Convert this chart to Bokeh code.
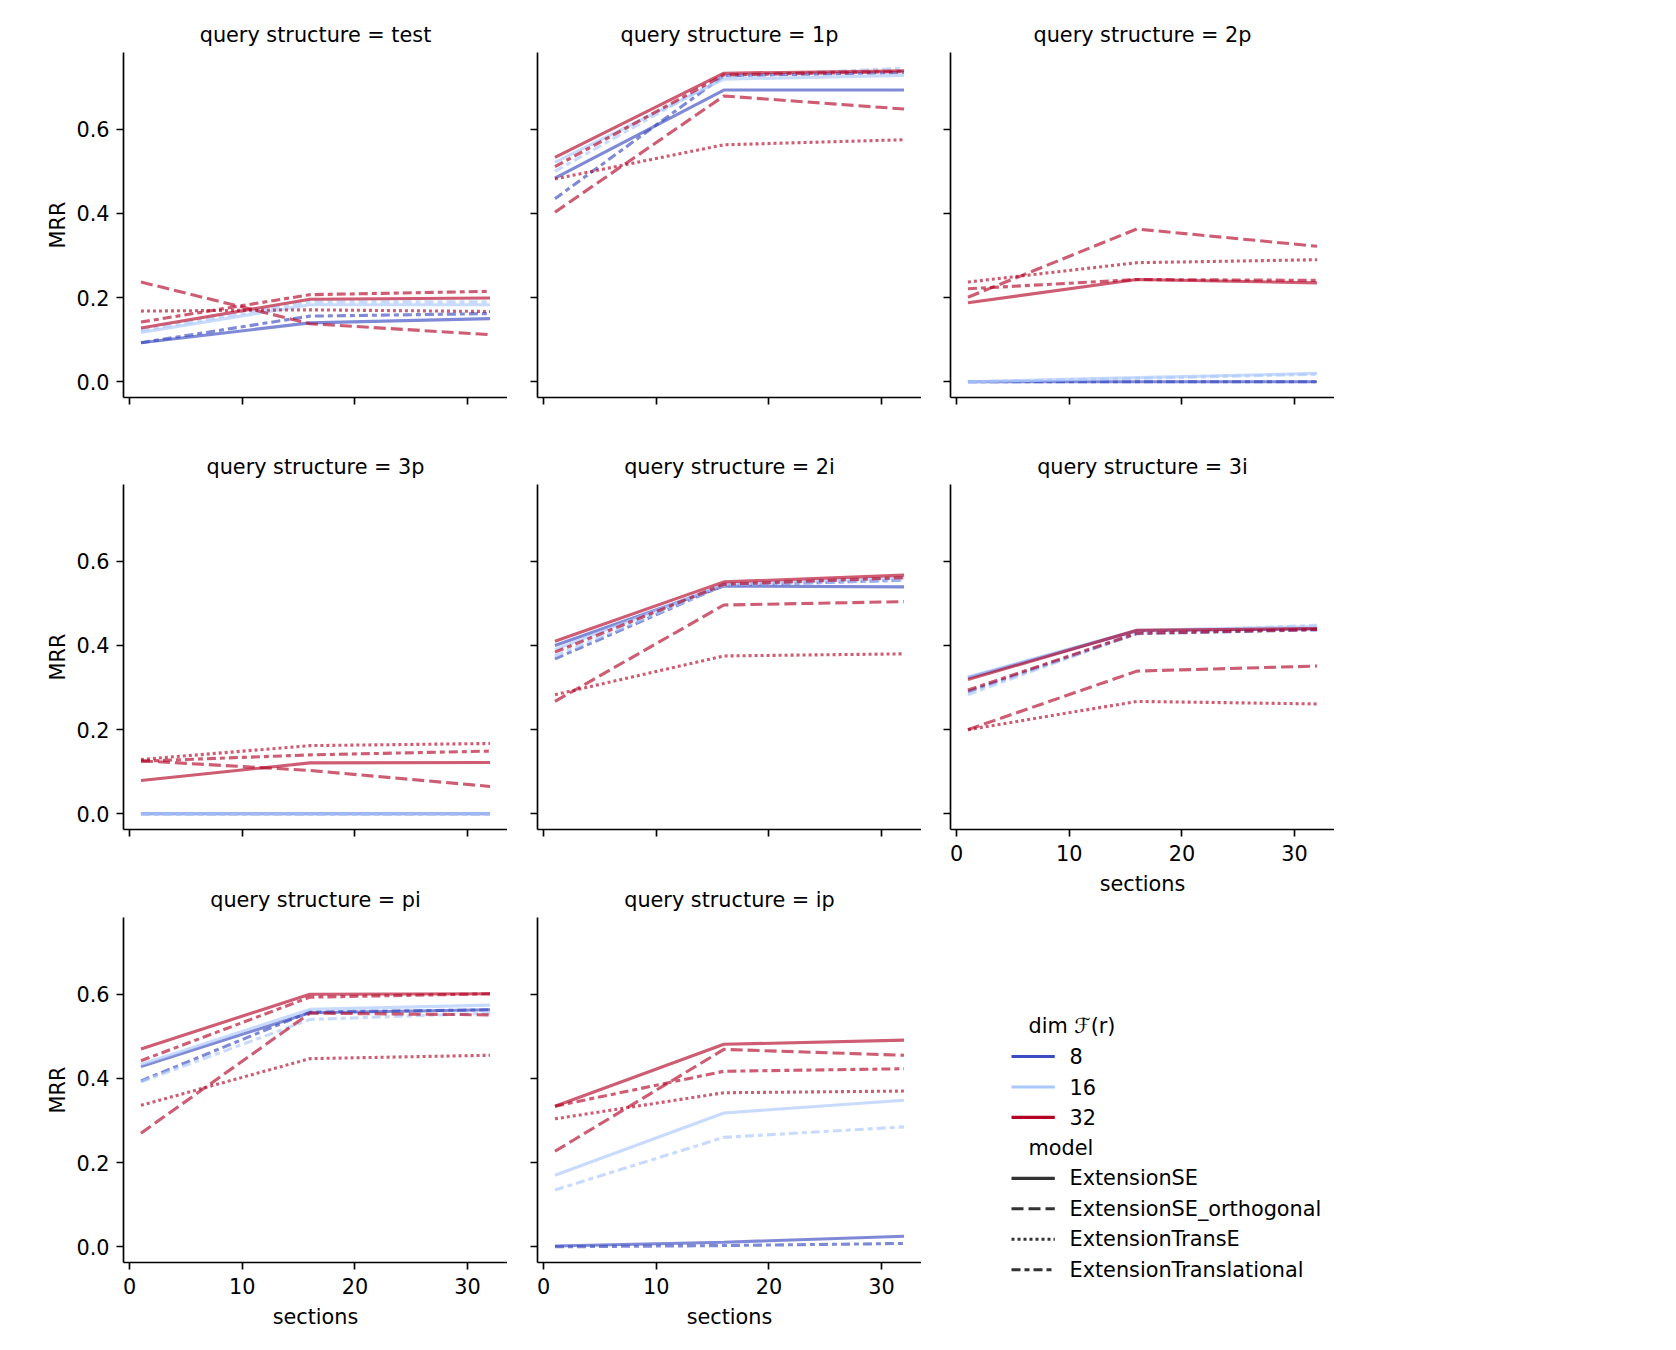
from bokeh.plotting import figure
from bokeh.models import Range1d, FixedTicker, PrintfTickFormatter, ColumnDataSource
from bokeh.layouts import row, column
from bokeh.embed import file_html
from bokeh.resources import INLINE
from bokeh.core.properties import value

# ---------------- data ----------------
SECTIONS = [1, 16, 32]
STRUCTURES = ["test", "1p", "2p", "3p", "2i", "3i", "pi", "ip"]
DIMS = [8, 16, 32]
MODELS = ["ExtensionSE", "ExtensionSE_orthogonal", "ExtensionTransE", "ExtensionTranslational"]

# MRR at sections 1, 16, 32 for each query structure (order of STRUCTURES)
SE_8 = [[0.093, 0.140, 0.150], [0.484, 0.693, 0.693], [0.0, 0.0, 0.0], [0.0, 0.0, 0.0],
        [0.400, 0.541, 0.539], [0.323, 0.435, 0.440], [0.428, 0.556, 0.563], [0.002, 0.011, 0.025]]
TL_8 = [[0.093, 0.156, 0.162], [0.435, 0.727, 0.735], [0.0, 0.0, 0.0], [0.0, 0.0, 0.0],
        [0.368, 0.543, 0.555], [0.290, 0.428, 0.437], [0.394, 0.558, 0.563], [0.0, 0.003, 0.008]]
SE_16 = [[0.117, 0.183, 0.183], [0.521, 0.719, 0.728], [0.0, 0.010, 0.020], [0.0, 0.0, 0.0],
         [0.390, 0.545, 0.560], [0.325, 0.436, 0.445], [0.433, 0.564, 0.574], [0.170, 0.318, 0.348]]
TL_16 = [[0.122, 0.190, 0.190], [0.500, 0.725, 0.745], [0.0, 0.008, 0.018], [0.0, 0.0, 0.0],
         [0.375, 0.543, 0.555], [0.283, 0.430, 0.448], [0.392, 0.540, 0.555], [0.135, 0.260, 0.285]]
SE_32 = [[0.128, 0.196, 0.199], [0.533, 0.733, 0.739], [0.188, 0.243, 0.235], [0.079, 0.121, 0.122],
         [0.410, 0.551, 0.567], [0.319, 0.436, 0.440], [0.470, 0.600, 0.601], [0.334, 0.481, 0.491]]
ORTH_32 = [[0.237, 0.138, 0.112], [0.403, 0.679, 0.648], [0.201, 0.363, 0.322], [0.126, 0.103, 0.065],
           [0.267, 0.496, 0.504], [0.200, 0.339, 0.351], [0.270, 0.555, 0.551], [0.227, 0.469, 0.455]]
TRANSE_32 = [[0.168, 0.171, 0.167], [0.482, 0.563, 0.575], [0.237, 0.283, 0.290], [0.129, 0.162, 0.167],
             [0.283, 0.375, 0.380], [0.200, 0.267, 0.261], [0.336, 0.447, 0.455], [0.304, 0.366, 0.370]]
TL_32 = [[0.142, 0.207, 0.215], [0.511, 0.729, 0.737], [0.221, 0.243, 0.241], [0.125, 0.140, 0.149],
         [0.384, 0.545, 0.561], [0.294, 0.429, 0.438], [0.442, 0.593, 0.601], [0.334, 0.417, 0.423]]

# (dim, model, values) in drawing order
SERIES = [
    (8, "ExtensionSE", SE_8), (8, "ExtensionTranslational", TL_8),
    (16, "ExtensionSE", SE_16), (16, "ExtensionTranslational", TL_16),
    (32, "ExtensionSE", SE_32), (32, "ExtensionSE_orthogonal", ORTH_32),
    (32, "ExtensionTransE", TRANSE_32), (32, "ExtensionTranslational", TL_32),
]

# ---------------- style ----------------
COLORS = {8: "#3b4cc0", 16: "#aac7fd", 32: "#b40426"}
DASHES = {"ExtensionSE": "solid", "ExtensionSE_orthogonal": "12 5",
          "ExtensionTransE": "3 3", "ExtensionTranslational": "9 4 5 4"}
FONT = "DejaVu Sans"
FS = "20.8px"
LW = 3.1
ALPHA = 0.65

FW, FH = 384, 345


def make_panel(k, left, top, bottom, show_x, show_y):
    p = figure(frame_width=FW, frame_height=FH,
               min_border_left=left, min_border_right=0,
               min_border_top=top, min_border_bottom=bottom,
               x_range=Range1d(-0.55, 33.55), y_range=Range1d(-0.03725, 0.78225),
               output_backend="svg", toolbar_location=None,
               title="query structure = " + STRUCTURES[k])
    p.title.align = "center"
    p.title.text_font = FONT
    p.title.text_font_size = FS
    p.title.text_font_style = "normal"
    p.title.text_color = "black"
    p.title.standoff = 12
    p.grid.visible = False
    p.outline_line_color = None
    p.background_fill_color = "white"
    p.border_fill_color = "white"
    for dim, model, vals in SERIES:
        src = ColumnDataSource(dict(x=SECTIONS, y=vals[k]))
        p.line("x", "y", source=src, line_color=COLORS[dim], line_alpha=ALPHA,
               line_width=LW, line_dash=DASHES[model])
    p.xaxis.ticker = FixedTicker(ticks=[0, 10, 20, 30])
    p.yaxis.ticker = FixedTicker(ticks=[0.0, 0.2, 0.4, 0.6])
    p.xaxis.formatter = PrintfTickFormatter(format="%d")
    p.yaxis.formatter = PrintfTickFormatter(format="%.1f")
    for ax in (p.xaxis[0], p.yaxis[0]):
        ax.axis_line_color = "black"
        ax.axis_line_width = 1.67
        ax.major_tick_line_color = "black"
        ax.major_tick_line_width = 1.67
        ax.major_tick_out = 7
        ax.major_tick_in = 0
        ax.minor_tick_out = 0
        ax.minor_tick_in = 0
        ax.major_label_text_font = FONT
        ax.major_label_text_font_size = FS
        ax.major_label_text_color = "black"
        ax.axis_label_text_font = FONT
        ax.axis_label_text_font_size = FS
        ax.axis_label_text_font_style = "normal"
        ax.axis_label_text_color = "black"
    p.xaxis.major_label_standoff = 8
    p.xaxis.axis_label_standoff = 8
    p.yaxis.major_label_standoff = 7
    p.yaxis.axis_label_standoff = 3
    if show_x:
        p.xaxis.axis_label = "sections"
    else:
        p.xaxis.major_label_text_color = None
    if show_y:
        p.yaxis.axis_label = "MRR"
    else:
        p.yaxis.major_label_text_color = None
    return p


LEFTS = [123, 30, 29]
R1 = (52, 40)
R2 = (47, 40)
R3 = (48, 75)

f_test = make_panel(0, LEFTS[0], *R1, False, True)
f_1p = make_panel(1, LEFTS[1], *R1, False, False)
f_2p = make_panel(2, LEFTS[2], *R1, False, False)
f_3p = make_panel(3, LEFTS[0], *R2, False, True)
f_2i = make_panel(4, LEFTS[1], *R2, False, False)
f_3i = make_panel(5, LEFTS[2], R2[0], 75, True, False)
f_pi = make_panel(6, LEFTS[0], *R3, True, True)
f_ip = make_panel(7, LEFTS[1], *R3, True, False)

# ---------------- legend panel ----------------
LGW, LGH = 470, 428
lg = figure(frame_width=LGW, frame_height=LGH, x_range=Range1d(0, LGW), y_range=Range1d(LGH, 0),
            min_border_left=LEFTS[2], min_border_right=0, min_border_top=0, min_border_bottom=0,
            x_axis_location=None, y_axis_location=None,
            output_backend="svg", toolbar_location=None)
lg.grid.visible = False
lg.outline_line_color = None

Y0, PITCH = 121.5, 30.47
HX0, HX1, TX, SX = 61, 104.3, 119, 78

rows = []
rows.append(("sub", "dim \u2131(r)", None, None))
for d in DIMS:
    rows.append(("item", str(d), COLORS[d], "solid"))
rows.append(("sub", "model", None, None))
for m in MODELS:
    rows.append(("item", m, "#333333", DASHES[m]))

for i, (kind, label, col, dash) in enumerate(rows):
    y = Y0 + PITCH * i
    if kind == "sub":
        lg.text(x=[SX], y=[y], text=[label], text_font=value(FONT), text_font_size=value(FS),
                text_baseline="middle", text_align="left", text_color="black")
    else:
        lg.line(x=[HX0, HX1], y=[y, y], line_color=col, line_width=LW, line_dash=dash)
        lg.text(x=[TX], y=[y], text=[label], text_font=value(FONT), text_font_size=value(FS),
                text_baseline="middle", text_align="left", text_color="black")

layout = row(
    column(f_test, f_3p, f_pi),
    column(f_1p, f_2i, f_ip),
    column(f_2p, f_3i, lg),
)

open("out.html", "w").write(file_html(layout, INLINE))
